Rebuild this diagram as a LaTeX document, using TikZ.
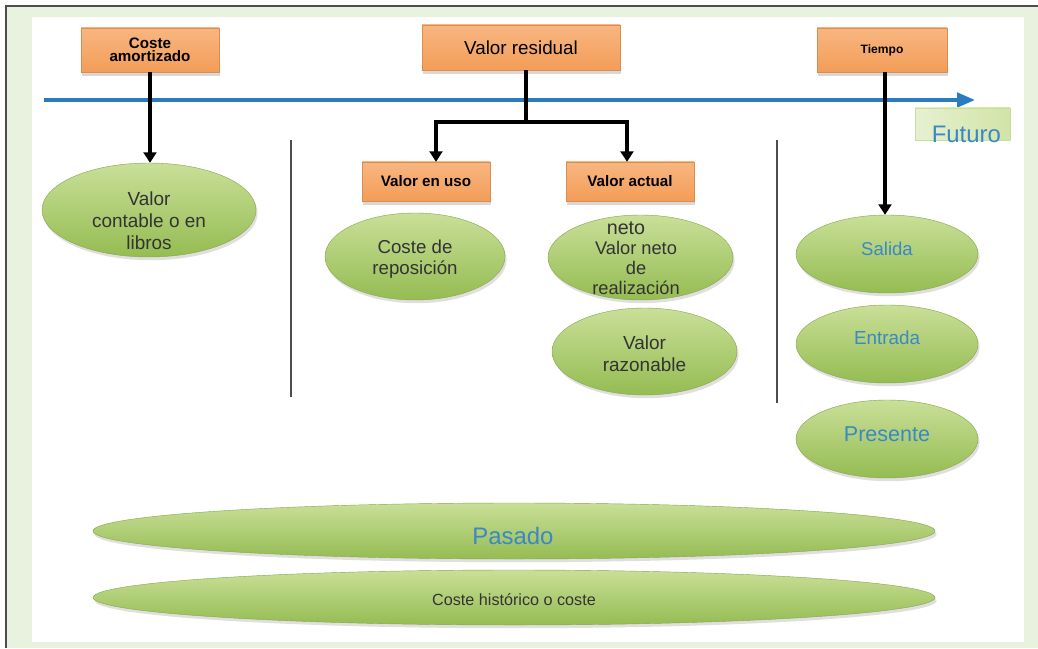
\documentclass[tikz,border=0pt]{standalone}
\usepackage{fontspec}
\setmainfont{Liberation Sans}
\usetikzlibrary{arrows.meta, shapes.geometric, shadows, calc, positioning}
\definecolor{vaOrange}{HTML}{F39D58}
\definecolor{vaOrangeTop}{HTML}{F8B681}
\definecolor{vaGreenTop}{HTML}{C9DF98}
\definecolor{vaGreenBot}{HTML}{95BC52}
\definecolor{vaBlue}{HTML}{2A7CC1}
\definecolor{vaTextBlue}{HTML}{3A88C4}
\definecolor{vaText}{HTML}{333333}
\definecolor{vaFrame}{HTML}{E9F1DF}
\definecolor{vaGrey}{HTML}{4D4D4D}
\tikzset{
  % one unit = one pixel of the sketch, y runs downwards
  every picture/.append style = {line width=0.7pt},
  timeline/.style  = {-{Triangle[length=4.5mm, width=3.6mm]}, vaBlue, line width=2.6pt},
  flowline/.style  = {black, line width=2.2pt},
  flowarrow/.style = {flowline, -{Triangle[length=2.6mm, width=3.2mm]}},
  divider/.style   = {vaGrey, line width=0.9pt},
  tagbox/.style    = {rectangle, top color=vaOrangeTop, bottom color=vaOrange,
                      draw=vaOrange!90!black, line width=0.3pt, inner sep=0pt,
                      drop shadow={shadow xshift=0.3mm, shadow yshift=-1mm, opacity=0.3},
                      align=center, text=black, font=\bfseries\fontsize{10.8}{9.6}\selectfont},
  leaf/.style      = {ellipse, top color=vaGreenTop, bottom color=vaGreenBot,
                      draw=vaGreenBot!90!black, line width=0.3pt, inner sep=0pt,
                      drop shadow={shadow xshift=0.4mm, shadow yshift=-0.8mm, opacity=0.25}},
}

\begin{document}
\begin{tikzpicture}[x=0.25mm, y=-0.25mm,
    leaftxt/.style={text=vaText, align=center, font=\fontsize{13.5}{15.6}\selectfont},
    leafblue/.style={text=vaTextBlue, align=center, font=\fontsize{13.2}{15}\selectfont},
    futbox/.style={rectangle, left color=vaGreenTop!45, right color=vaGreenTop!85,
                   draw=vaGreenTop, line width=0.3pt, inner sep=0pt}]
  \useasboundingbox (0,0) rectangle (1038,648);
  % frame and white panel
  \fill[vaFrame] (6,6) rectangle (1038,648);
  \draw[vaGrey, line width=1.2pt] (6,648) -- (6,6) -- (1038,6);
  \fill[white] (32,17) rectangle (1024,642);
  % time axis
  \coordinate (tstart) at (44,100);
  \coordinate (tend) at (975,100);
  \draw[timeline] (tstart) -- (tend);
  \node[futbox, minimum width=23.75mm, minimum height=8mm] (futbox) at (962.5,124) {};
  \node[anchor=base east, text=vaTextBlue, font=\fontsize{17}{20}\selectfont] (futuro) at (1006,143) {Futuro};
  % dividers
  \draw[divider] (291,140) -- (291,397);
  \draw[divider] (777,140) -- (777,403);
  % orange tags
  \node[tagbox, minimum width=34.5mm, minimum height=11mm] (amort) at (150,50) {Coste\\amortizado};
  \node[tagbox, minimum width=49.5mm, minimum height=11.25mm,
        font=\fontsize{13.4}{16}\selectfont] (resid) at (521,47.5) {Valor residual};
  \node[tagbox, minimum width=32.5mm, minimum height=11mm,
        font=\bfseries\fontsize{8.6}{10}\selectfont] (tiempo) at (882,50) {Tiempo};
  \node[tagbox, minimum width=32mm, minimum height=9.75mm] (uso) at (426,181.5) {Valor en uso};
  \node[tagbox, minimum width=32mm, minimum height=9.75mm] (actual) at (630,181.5) {Valor actual};
  % left column
  \node[leaf, minimum width=53.5mm, minimum height=23.5mm] (libros) at (149,210) {};
  \node[leaftxt] (librosTxt) at (149,221) {Valor\\contable o en\\libros};
  % middle column
  \node[leaf, minimum width=45mm, minimum height=21.75mm] (repos) at (415,256.5) {};
  \node[leaftxt, font=\fontsize{13.3}{15}\selectfont] (reposTxt) at (415,259.5) {Coste de\\reposición};
  \node[leaf, minimum width=46.25mm, minimum height=21.25mm] (neto) at (640.5,257.5) {};
  \node[leaftxt, font=\fontsize{14}{15}\selectfont, inner sep=0pt] (netoTop) at (626,228) {neto};
  \node[leaftxt, font=\fontsize{13}{13.9}\selectfont, inner sep=0pt] (netoTxt) at (636,268) {Valor neto\\de\\realización};
  \node[leaf, minimum width=46.25mm, minimum height=21.75mm] (razon) at (644.5,351.5) {};
  \node[leaftxt] (razonTxt) at (644.5,354) {Valor\\razonable};
  % right column
  \node[leaf, minimum width=45.5mm, minimum height=19.5mm] (salida) at (887,254) {};
  \node[leafblue] (salidaTxt) at (887,249) {Salida};
  \node[leaf, minimum width=45.5mm, minimum height=19.5mm] (entrada) at (887,344) {};
  \node[leafblue, font=\fontsize{13.4}{15}\selectfont] (entradaTxt) at (887,338) {Entrada};
  \node[leaf, minimum width=45.5mm, minimum height=19.5mm] (presente) at (887,439) {};
  \node[leafblue, font=\fontsize{15.3}{17}\selectfont] (presenteTxt) at (887,434) {Presente};
  % wide bands
  \node[leaf, minimum width=210.5mm, minimum height=14mm] (pasado) at (514,531) {};
  \node[leafblue, font=\fontsize{17}{19}\selectfont] (pasadoTxt) at (513,536) {Pasado};
  \node[leaf, minimum width=210.5mm, minimum height=13.75mm] (hist) at (514,597.5) {};
  \node[leaftxt, font=\fontsize{11.5}{13}\selectfont] (histTxt) at (514,600) {Coste histórico o coste};
  % connectors
  \draw[flowarrow] (amort.south) -- (amort.south |- libros.north);
  \coordinate (split) at (526,122);
  \draw[flowline] (resid.south -| split) -- (split);
  \draw[flowarrow] (split) -| ([xshift=2.5mm]uso.north);
  \draw[flowarrow] (split) -| ([xshift=-0.75mm]actual.north);
  \draw[flowarrow] ([xshift=0.75mm]tiempo.south) -- ([xshift=0.75mm]tiempo.south |- salida.north);
\end{tikzpicture}
\end{document}
